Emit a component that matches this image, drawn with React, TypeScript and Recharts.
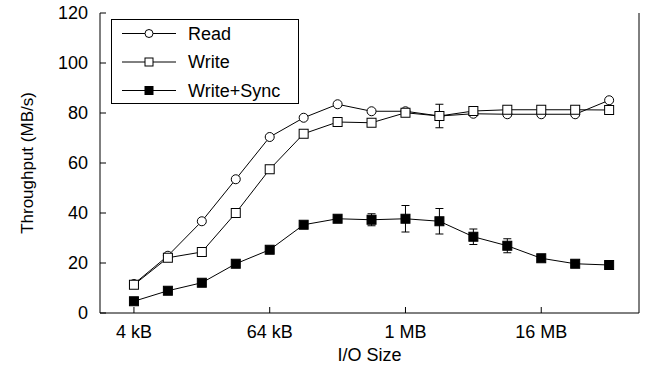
import { LineChart, Line, XAxis, YAxis, ErrorBar } from 'recharts';

const ioSizeKB = [4, 8, 16, 32, 64, 128, 256, 512, 1024, 2048, 4096, 8192, 16384, 32768, 65536];
const readMBs = [11.6, 22.9, 36.7, 53.5, 70.4, 78.1, 83.5, 80.7, 80.7, 78.8, 79.7, 79.5, 79.5, 79.5, 85.1];
const writeMBs = [11.3, 22.1, 24.4, 40.0, 57.5, 71.7, 76.4, 76.1, 80.1, 78.8, 80.8, 81.3, 81.3, 81.3, 81.2];
const writeErr = [0.4, 0.4, 0.4, 0.4, 0.4, 0.4, 0.4, 0.4, 0.4, 4.7, 0.4, 0.4, 0.4, 0.4, 0.4];
const syncMBs = [4.7, 8.9, 12.1, 19.7, 25.3, 35.3, 37.7, 37.3, 37.7, 36.7, 30.5, 26.9, 21.9, 19.7, 19.2];
const syncErr = [0.3, 0.3, 0.3, 0.3, 0.3, 0.3, 0.3, 2.4, 5.3, 5.1, 3.1, 2.8, 0.3, 0.3, 0.3];

const xTicks = [2, 6, 10, 14];
const xTickLabels = ['4 kB', '64 kB', '1 MB', '16 MB'];
const yTicks = [0, 20, 40, 60, 80, 100, 120];

const data = ioSizeKB.map((kb, i) => ({
  x: Math.log2(kb),
  read: readMBs[i],
  write: writeMBs[i],
  writeErr: writeErr[i],
  sync: syncMBs[i],
  syncErr: syncErr[i],
}));

const FONT = '"Liberation Sans", Arial, sans-serif';
const FS = 18;
const TICK = 6;
const Y_GAP = 12;
const X_GAP = 12;

const LeftTick = ({ x, y, payload }: any) => (
  <g>
    <line x1={x + Y_GAP} x2={x + Y_GAP + TICK} y1={y} y2={y} stroke="#000" />
    <text x={x} y={y} dy="0.36em" textAnchor="end" fontSize={FS} fontFamily={FONT} fill="#000">
      {payload.value}
    </text>
  </g>
);

const RightTick = ({ x, y }: any) => <line x1={x - TICK} x2={x} y1={y} y2={y} stroke="#000" />;

const BottomTick = ({ x, y, payload }: any) => (
  <g>
    <line x1={x} x2={x} y1={y - X_GAP} y2={y - X_GAP - TICK} stroke="#000" />
    <text x={x} y={y} dy="0.72em" textAnchor="middle" fontSize={FS} fontFamily={FONT} fill="#000">
      {xTickLabels[xTicks.indexOf(payload.value)]}
    </text>
  </g>
);

const TopTick = ({ x, y }: any) => <line x1={x} x2={x} y1={y} y2={y + TICK} stroke="#000" />;

const Circle = ({ cx, cy, size = 4.5 }: any) => (
  <circle cx={cx} cy={cy} r={size} fill="#fff" stroke="#000" strokeWidth={1} />
);
const OpenSquare = ({ cx, cy, size = 4.5 }: any) => (
  <rect x={cx - size} y={cy - size} width={size * 2} height={size * 2} fill="#fff" stroke="#000" strokeWidth={1} />
);
const FilledSquare = ({ cx, cy, size = 4.5 }: any) => (
  <rect x={cx - size} y={cy - size} width={size * 2} height={size * 2} fill="#000" stroke="#000" strokeWidth={1} />
);

const legendItems = [
  { name: 'Read', Marker: Circle },
  { name: 'Write', Marker: OpenSquare },
  { name: 'Write+Sync', Marker: FilledSquare },
];

const LegendBox = () => (
  <svg width={188} height={85} style={{ position: 'absolute', left: 111, top: 19 }}>
    <rect x={0.5} y={0.5} width={187} height={84} fill="#fff" stroke="#000" />
    {legendItems.map((item, i) => {
      const y = 14.5 + i * 28.5;
      return (
        <g key={item.name}>
          <line x1={11} x2={65} y1={y} y2={y} stroke="#000" />
          <item.Marker cx={38} cy={y} size={4} />
          <text x={77} y={y} dy="0.36em" fontSize={FS} fontFamily={FONT} fill="#000">
            {item.name}
          </text>
        </g>
      );
    })}
  </svg>
);

export default function App() {
  return (
    <div style={{ position: 'absolute', left: 0, top: 0, width: 651, height: 369, background: '#fff' }}>
      <LineChart width={651} height={369} data={data} margin={{ top: 13, right: 0, bottom: 0, left: 0 }}>
        <XAxis
          dataKey="x"
          type="number"
          domain={[1, 16.88]}
          ticks={xTicks}
          tickLine={false}
          tickSize={0}
          tickMargin={X_GAP}
          tick={<BottomTick />}
          height={56}
          axisLine={{ stroke: '#000' }}
          label={{ value: 'I/O Size', position: 'insideBottom', offset: 8, fontSize: FS, fontFamily: FONT, fill: '#000' }}
        />
        <XAxis
          xAxisId="top"
          orientation="top"
          dataKey="x"
          type="number"
          domain={[1, 16.88]}
          ticks={xTicks}
          tickLine={false}
          tickSize={0}
          tickMargin={0}
          tick={<TopTick />}
          height={0}
          axisLine={{ stroke: '#000' }}
        />
        <YAxis
          type="number"
          domain={[0, 120]}
          ticks={yTicks}
          tickLine={false}
          tickSize={0}
          tickMargin={Y_GAP}
          tick={<LeftTick />}
          width={100}
          axisLine={{ stroke: '#000' }}
          label={{
            value: 'Throughput (MB/s)',
            angle: -90,
            position: 'insideLeft',
            offset: 27,
            style: { textAnchor: 'middle' },
            fontSize: 17,
            fontFamily: FONT,
            fill: '#000',
          }}
        />
        <YAxis
          yAxisId="right"
          orientation="right"
          type="number"
          domain={[0, 120]}
          ticks={yTicks}
          tickLine={false}
          tickSize={0}
          tickMargin={0}
          tick={<RightTick />}
          width={12}
          axisLine={{ stroke: '#000' }}
        />
        <Line
          dataKey="read"
          stroke="#000"
          strokeWidth={1}
          dot={<Circle />}
          activeDot={false}
          isAnimationActive={false}
        />
        <Line
          dataKey="write"
          stroke="#000"
          strokeWidth={1}
          dot={<OpenSquare />}
          activeDot={false}
          isAnimationActive={false}
        >
          <ErrorBar dataKey="writeErr" width={4} stroke="#000" strokeWidth={1} />
        </Line>
        <Line
          dataKey="sync"
          stroke="#000"
          strokeWidth={1}
          dot={<FilledSquare />}
          activeDot={false}
          isAnimationActive={false}
        >
          <ErrorBar dataKey="syncErr" width={4} stroke="#000" strokeWidth={1} />
        </Line>
      </LineChart>
      <LegendBox />
    </div>
  );
}
